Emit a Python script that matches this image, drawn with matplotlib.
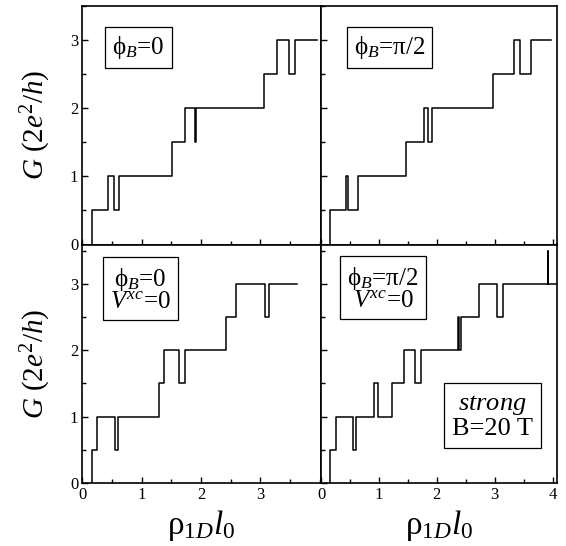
import matplotlib
matplotlib.use("Agg")
import matplotlib.pyplot as plt
from matplotlib.ticker import MultipleLocator, FixedLocator

plt.rcParams['font.family'] = ['Liberation Serif', 'DejaVu Serif']
plt.rcParams['mathtext.fontset'] = 'custom'
plt.rcParams['mathtext.rm'] = 'Liberation Serif'
plt.rcParams['mathtext.it'] = 'Liberation Serif:italic'
plt.rcParams['mathtext.bf'] = 'Liberation Serif:bold'

# conductance staircases, G in units of 2e^2/h vs rho_1D * l_0
x_phi0 = [0.17, 0.17, 0.43, 0.54, 0.62, 1.515, 1.73, 1.89, 1.91, 3.06, 3.28, 3.485, 3.59, 3.96]
g_phi0 = [0, 0.5, 1.0, 0.5, 1.0, 1.5, 2.0, 1.5, 2.0, 2.5, 3.0, 2.5, 3.0, 3.0]

x_phi90 = [0.155, 0.155, 0.426, 0.472, 0.645, 1.462, 1.779, 1.854, 1.923, 2.977, 3.333, 3.437, 3.621, 3.967]
g_phi90 = [0, 0.5, 1.0, 0.5, 1.0, 1.5, 2.0, 1.5, 2.0, 2.5, 3.0, 2.5, 3.0, 3.0]

x_phi0_nxc = [0.168, 0.168, 0.253, 0.55, 0.606, 1.296, 1.38, 1.633, 1.724, 2.414, 2.588, 3.07, 3.138, 3.62]
g_phi0_nxc = [0, 0.5, 1.0, 0.5, 1.0, 1.5, 2.0, 1.5, 2.0, 2.5, 3.0, 2.5, 3.0, 3.0]

x_phi90_nxc = [0.155, 0.155, 0.254, 0.547, 0.599, 0.915, 0.99, 1.232, 1.439, 1.623, 1.722,
               2.36, 2.375, 2.415, 2.734, 3.034, 3.149, 3.915, 3.925, 4.07]
g_phi90_nxc = [0, 0.5, 1.0, 0.5, 1.0, 1.5, 1.0, 1.5, 2.0, 1.5, 2.0,
               2.5, 2.0, 2.5, 3.0, 2.5, 3.0, 3.5, 3.0, 3.0]

labels = ["ϕ$_B$=0", "ϕ$_B$=π/2", "ϕ$_B$=0\n$V^{xc}$=0", "ϕ$_B$=π/2\n$V^{xc}$=0"]
label_pos = [(0.236, 0.824), (0.291, 0.826), (0.244, 0.810), (0.263, 0.816)]

W, H = 566, 546
fig = plt.figure(figsize=(W / 100, H / 100), dpi=100)

def px_axes(x0, y0, x1, y1):
    return fig.add_axes([x0 / W, 1 - y1 / H, (x1 - x0) / W, (y1 - y0) / H])

ax_tl = px_axes(82.3, 5.7, 321, 244.5)
ax_tr = px_axes(321, 5.7, 556.7, 244.5)
ax_bl = px_axes(82.3, 244.5, 321, 482.7)
ax_br = px_axes(321, 244.5, 556.7, 482.7)
axes = [ax_tl, ax_tr, ax_bl, ax_br]

data = [(x_phi0, g_phi0), (x_phi90, g_phi90), (x_phi0_nxc, g_phi0_nxc), (x_phi90_nxc, g_phi90_nxc)]

for i, ax in enumerate(axes):
    xs, gs = data[i]
    ax.plot(xs, gs, drawstyle='steps-post', color='black', lw=1.1)
    left = i in (0, 2)
    top = i in (0, 1)
    ax.set_xlim(0, 4.02 if left else 4.07)
    ax.set_ylim(0, 3.5 if top else 3.6)
    ax.xaxis.set_major_locator(FixedLocator([0, 1, 2, 3] if left else [0, 1, 2, 3, 4]))
    ax.xaxis.set_minor_locator(MultipleLocator(0.5))
    ax.yaxis.set_major_locator(FixedLocator([0, 1, 2, 3]))
    ax.yaxis.set_minor_locator(MultipleLocator(0.5))
    ax.tick_params(which='both', direction='in', top=False, right=False,
                   width=1.0, labelsize=12, pad=3)
    ax.tick_params(which='major', length=4.5)
    ax.tick_params(which='minor', length=3)
    for s in ax.spines.values():
        s.set_linewidth(1.2)
    if top:
        ax.tick_params(labelbottom=False)
    else:
        ax.set_xlabel("ρ$_{1D}l_0$", fontsize=24, labelpad=4)
    if left:
        ax.set_ylabel("$G\\ (2e^2/h)$", fontsize=21, labelpad=12)
    else:
        ax.tick_params(labelleft=False)
    ax.text(label_pos[i][0], label_pos[i][1], labels[i], transform=ax.transAxes,
            ha='center', va='center', fontsize=18, linespacing=0.9,
            bbox=dict(boxstyle='square,pad=0.28', fc='white', ec='black', lw=0.9))

ax_br.text(0.726, 0.279, "$\\mathit{strong}$\nB=20 T", transform=ax_br.transAxes,
           ha='center', va='center', fontsize=19, linespacing=1.05,
           bbox=dict(boxstyle='square,pad=0.3', fc='white', ec='black', lw=0.9))

fig.savefig("out.png", dpi=100)
